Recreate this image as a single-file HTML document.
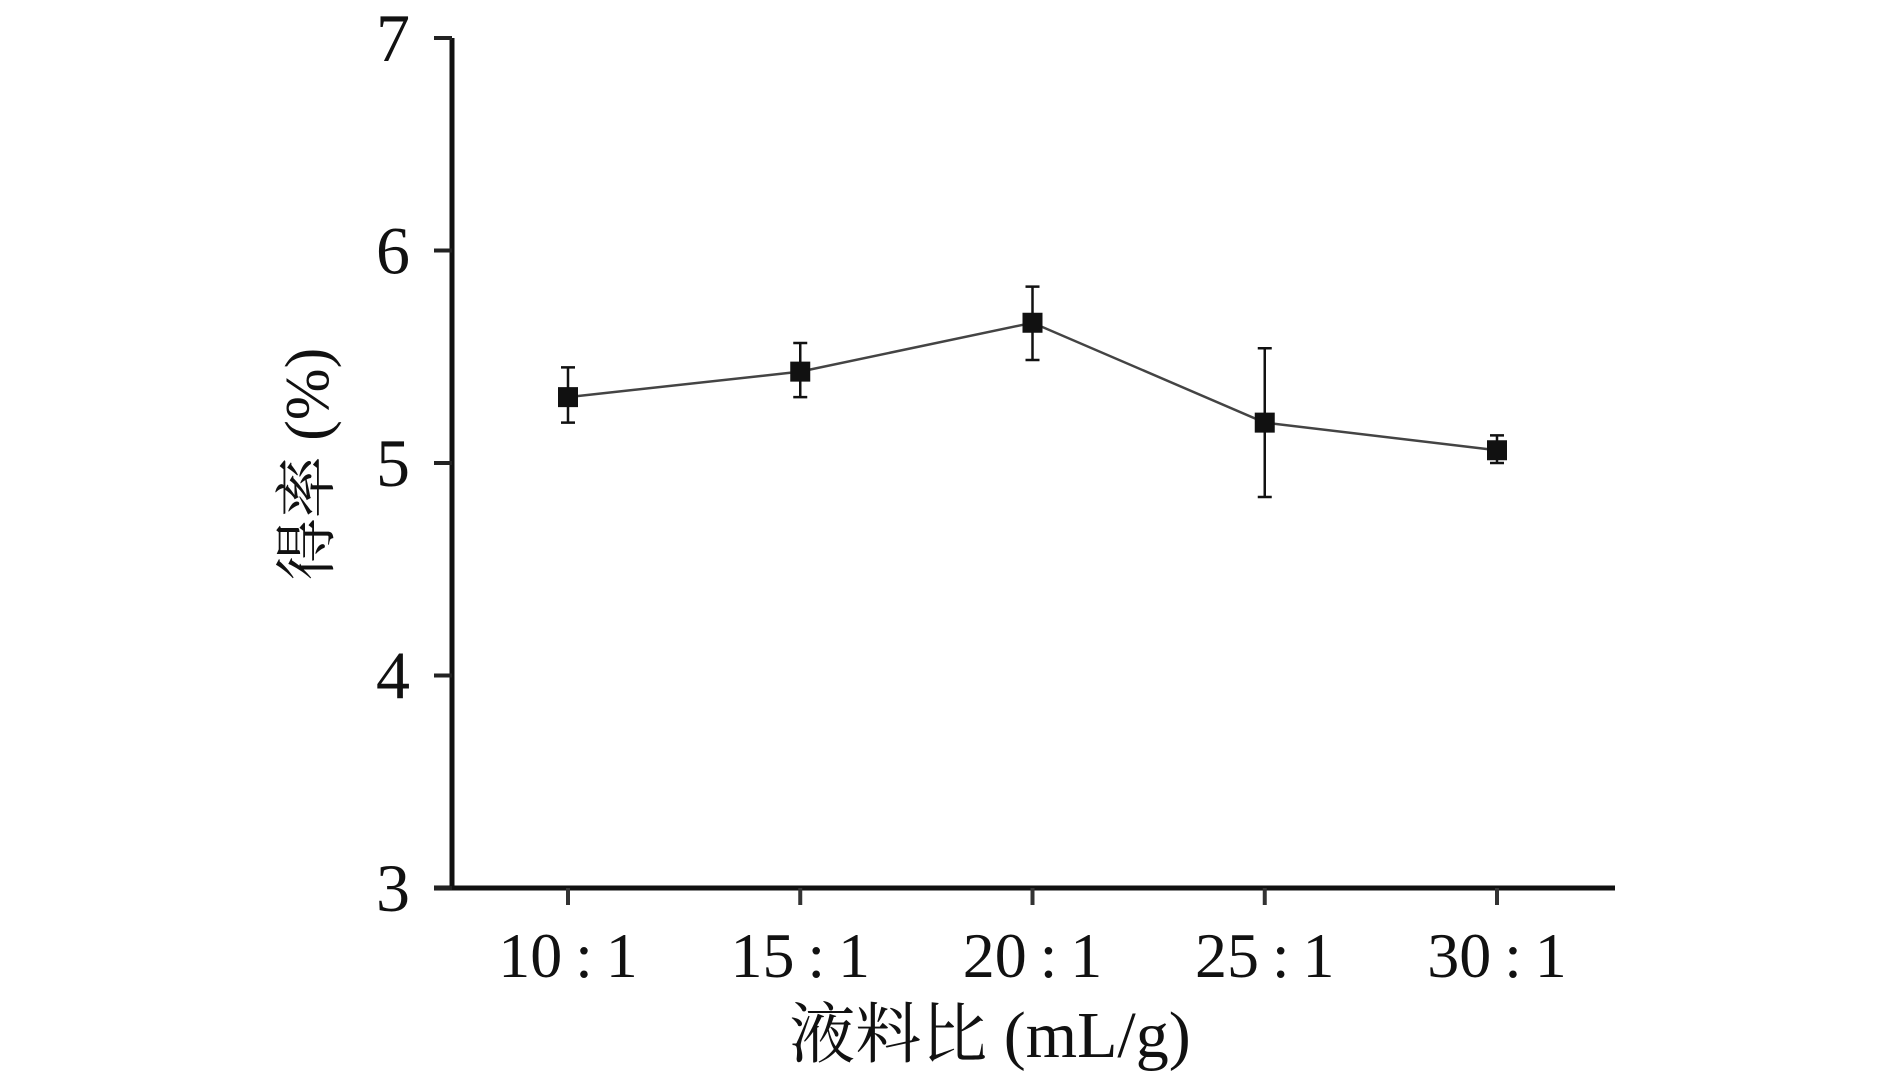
<!DOCTYPE html>
<html><head><meta charset="utf-8"><style>
html,body{margin:0;padding:0;background:#fff;}
svg{display:block;}
text{font-family:"Liberation Serif","Noto Serif CJK SC",serif;fill:#111;}
</style></head><body>
<svg id="chart" width="1890" height="1081" viewBox="0 0 1890 1081" xmlns="http://www.w3.org/2000/svg">
<g id="axes"></g>
<g id="series"></g>
<text transform="translate(328,464) rotate(-90)" text-anchor="middle" font-size="62">得率 (%)</text>
<text x="990" y="1057" text-anchor="middle" font-size="66">液料比 (mL/g)</text>
</svg>
<script>
const categories = ["10\u2009:\u20091","15\u2009:\u20091","20\u2009:\u20091","25\u2009:\u20091","30\u2009:\u20091"];
const values = [5.31, 5.43, 5.66, 5.19, 5.06];
const errUp = [0.14, 0.135, 0.17, 0.35, 0.07];
const errDown = [0.12, 0.12, 0.175, 0.35, 0.06];
const yTicks = [3, 4, 5, 6, 7];

const NS = "http://www.w3.org/2000/svg";
const x0 = 568, xStep = 232.25;
const yTop = 38, yBottom = 888, yMin = 3, yMax = 7;
function xScale(i){ return x0 + i * xStep; }
function yScale(v){ return yBottom - (v - yMin) / (yMax - yMin) * (yBottom - yTop); }
function mk(tag, attrs, parent){
  const el = document.createElementNS(NS, tag);
  for (const k in attrs) el.setAttribute(k, attrs[k]);
  parent.appendChild(el);
  return el;
}
const axes = document.getElementById('axes');
const series = document.getElementById('series');

let yl = mk('line', {x1:452, y1:yTop, x2:452, y2:yBottom+2, stroke:'#111', 'stroke-width':5}, axes);


let xl = mk('line', {x1:434, y1:yBottom, x2:1615, y2:yBottom, stroke:'#111', 'stroke-width':5}, axes);



yTicks.forEach(t => {
  const y = yScale(t);
  const tk = mk('line', {x1:434, y1:y, x2:452, y2:y, stroke:'#222', 'stroke-width':4}, axes);
  
  
  const lb = mk('text', {x:410, y:y+23, 'text-anchor':'end', 'font-size':68}, axes);
  lb.textContent = t;
  
  
});

categories.forEach((c, i) => {
  const x = xScale(i);
  const tk = mk('line', {x1:x, y1:yBottom, x2:x, y2:yBottom+17, stroke:'#333', 'stroke-width':4}, axes);
  
  
  const lb = mk('text', {x:x, y:977, 'text-anchor':'middle', 'font-size':64}, axes);
  lb.textContent = c;
  
  
});

const pts = values.map((v, i) => xScale(i) + ',' + yScale(v)).join(' ');
const line = mk('polyline', {points:pts, fill:'none', stroke:'#444', 'stroke-width':2.5}, series);



values.forEach((v, i) => {
  const x = xScale(i);
  const yt = yScale(v + errUp[i]), yb = yScale(v - errDown[i]);
  const eb = mk('path', {d:`M${x},${yt}V${yb}M${x-7},${yt}H${x+7}M${x-7},${yb}H${x+7}`, stroke:'#111', 'stroke-width':2.5, fill:'none'}, series);
  
  
  const m = mk('rect', {x:x-10, y:yScale(v)-10, width:20, height:20, fill:'#111'}, series);
  
  
});
</script>
</body></html>
